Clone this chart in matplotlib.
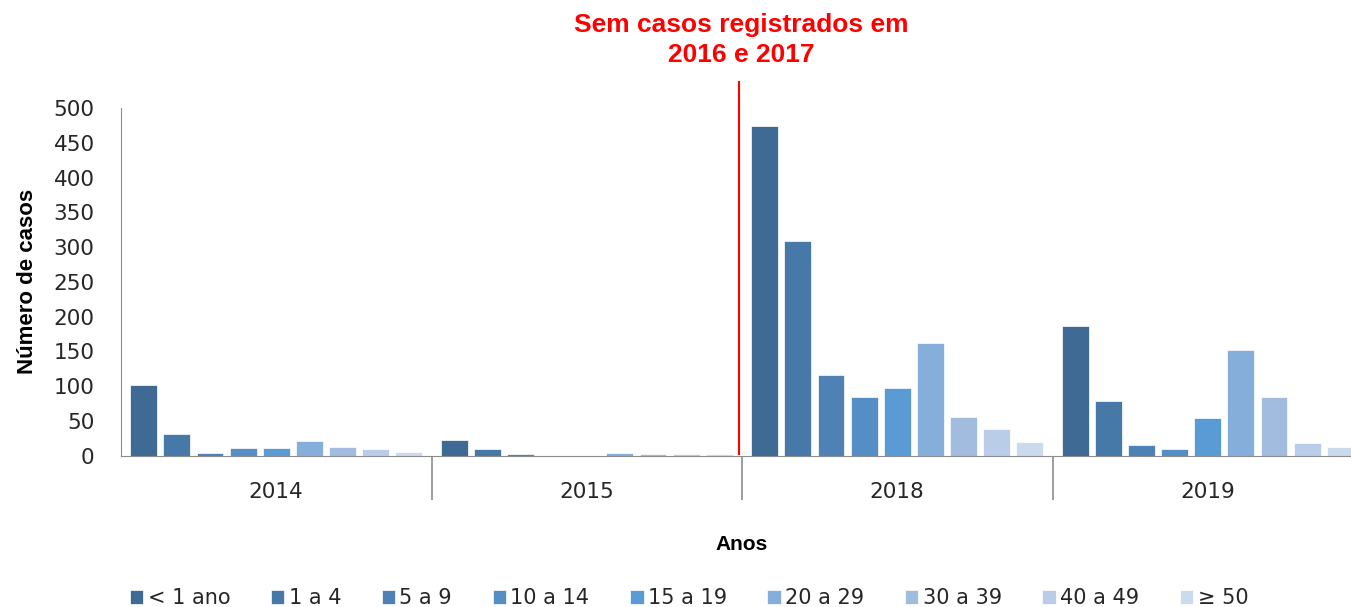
import matplotlib.pyplot as plt
import numpy as np

# Data
years = ['2014', '2015', '2018', '2019']
age_groups = ['< 1 ano', '1 a 4', '5 a 9', '10 a 14', '15 a 19',
              '20 a 29', '30 a 39', '40 a 49', '≥ 50']
cases = {
    '< 1 ano': [101, 22, 474, 186],
    '1 a 4':   [31, 9, 309, 78],
    '5 a 9':   [4, 2, 116, 16],
    '10 a 14': [11, 0, 84, 9],
    '15 a 19': [11, 0, 97, 54],
    '20 a 29': [21, 4, 162, 152],
    '30 a 39': [13, 2, 55, 84],
    '40 a 49': [9, 2, 38, 18],
    '≥ 50':    [6, 2, 20, 13],
}
colors = ['#3E6A93', '#4679A8', '#4E82B4', '#548EC4', '#5B9BD5',
          '#86AEDB', '#A2BCE0', '#B9CDE8', '#CCDAEE']

fig = plt.figure(figsize=(13.51, 6.07), dpi=100)
# axes extends past the right edge, like the cropped original
ax = fig.add_axes([121 / 1351, 151.3 / 607, 1242 / 1351, 347.7 / 607])

x = np.arange(len(years))
step = 0.1067
width = 0.0865
for k, grp in enumerate(age_groups):
    ax.bar(x + (k - 4) * step, cases[grp], width=width, color=colors[k],
           edgecolor='#FFFFFF', linewidth=0.5, label=grp)

ax.set_xlim(-0.5, 3.5)
ax.set_ylim(0, 500)
ax.set_yticks(range(0, 501, 50))

ax.spines['top'].set_visible(False)
ax.spines['right'].set_visible(False)
ax.spines['left'].set_color('#8C8C8C')
ax.spines['bottom'].set_color('#8C8C8C')

ax.set_xticks(x)
ax.set_xticklabels(years)
ax.set_xticks([0.5, 1.5, 2.5], minor=True)
ax.tick_params(axis='x', which='major', length=0, pad=19, labelsize=15.5, labelcolor='#262626')
ax.tick_params(axis='x', which='minor', length=32, width=1.2, color='#8C8C8C')
ax.tick_params(axis='y', length=0, pad=19, labelsize=15.5, labelcolor='#262626')

ax.set_ylabel('Número de casos', fontsize=16, fontweight='bold',
              family='Liberation Sans')
ax.yaxis.set_label_coords(-0.067, 0.5)
fig.text(742 / 1351, 1 - 545 / 607, 'Anos', ha='center', va='center',
         fontsize=15, fontweight='bold', family='Liberation Sans')

# red marker between 2015 and 2018
ax.axvline(1.49, ymin=0.006, ymax=1.075, color='#FF0000', linewidth=1.5, clip_on=False)
fig.text(741 / 1351, 1 - 40 / 607, 'Sem casos registrados em\n2016 e 2017',
         ha='center', va='center', color='#FF0000', fontsize=19,
         fontweight='bold', family='Liberation Sans', linespacing=1.35)

fig.legend(loc='center', bbox_to_anchor=(689 / 1351, 1 - 598 / 607), ncol=9,
           frameon=False, fontsize=15, handlelength=0.65, handleheight=0.65,
           handletextpad=0.2, columnspacing=1.95, labelcolor='#262626')

plt.savefig('out.png', dpi=100)
